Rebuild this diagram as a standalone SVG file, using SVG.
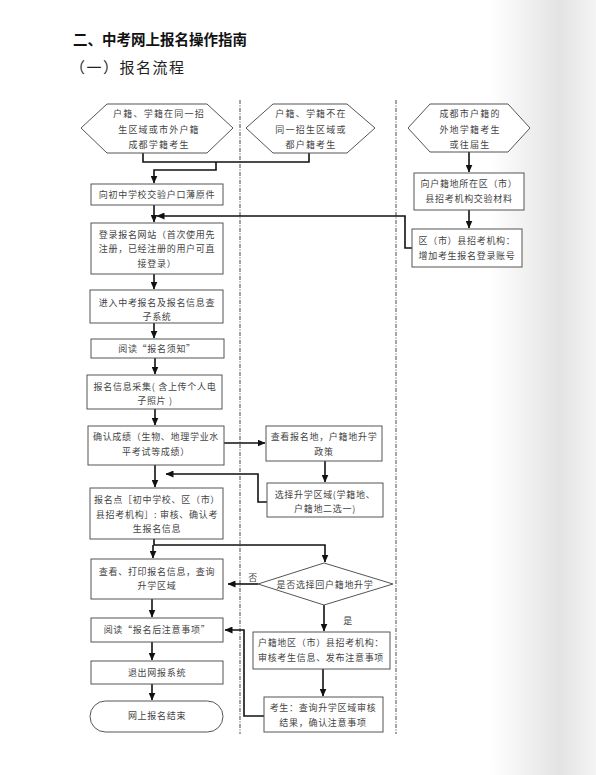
<svg xmlns="http://www.w3.org/2000/svg" width="596" height="775" viewBox="0 0 596 775">
<style>
.box{fill:#fff;stroke:#555;stroke-width:1}
.t{font-family:"Noto Sans CJK SC","Noto Sans",sans-serif;font-size:9px;fill:#444;text-anchor:middle;letter-spacing:0.7px}
.th{letter-spacing:1.2px}
.c{fill:none;stroke:#111;stroke-width:1.6}
.a{marker-end:url(#ah)}
.sep{stroke:#333;stroke-width:0.9;stroke-dasharray:4 1.5 1 1.5}
</style>
<defs>
<linearGradient id="edge" gradientUnits="userSpaceOnUse" x1="490" y1="0" x2="596" y2="0">
<stop offset="0" stop-color="#ffffff"/>
<stop offset="0.66" stop-color="#e3e3e3"/>
<stop offset="1" stop-color="#f4f4f4"/>
</linearGradient>
<marker id="ah" markerUnits="userSpaceOnUse" markerWidth="8" markerHeight="7" refX="7.5" refY="3.5" orient="auto">
<path d="M0,0 L8,3.5 L0,7 Z" fill="#111"/>
</marker>
</defs>
<rect x="0" y="0" width="596" height="775" fill="#fff"/>
<rect x="490" y="0" width="106" height="775" fill="url(#edge)"/>

<text x="73" y="45" font-family="'Noto Sans CJK SC',sans-serif" font-size="14.5" font-weight="bold" fill="#111">二、中考网上报名操作指南</text>
<text x="70" y="73" font-family="'Noto Sans CJK SC',sans-serif" font-size="15" letter-spacing="1.5" fill="#222">（一）报名流程</text>

<g id="separators">
<line class="sep" x1="240" y1="100" x2="240" y2="734"/>
<line class="sep" x1="396" y1="100" x2="396" y2="734"/>
</g>

<g id="connectors">
<path class="c" d="M143,153 V162 H309 V153"/>
<path class="c a" d="M216,162 V170 H154 V183"/>
<path class="c a" d="M154,205 V222"/>
<path class="c a" d="M412,248 H405 V216 H157"/>
<path class="c a" d="M469,152 V172"/>
<path class="c a" d="M469,210 V228"/>
<path class="c a" d="M154,274 V289"/>
<path class="c a" d="M154,323 V338"/>
<path class="c a" d="M155,358 V374"/>
<path class="c a" d="M155,409 V425"/>
<path class="c a" d="M224,443 H265"/>
<path class="c a" d="M325,461 V482"/>
<path class="c a" d="M267,502 H258 V474 H166"/>
<path class="c a" d="M155,465 V487"/>
<path class="c a" d="M154,539 V545 H325 V562"/>
<path class="c a" d="M153,545 V558"/>
<path class="c a" d="M258,584 H228"/>
<path class="c a" d="M324,605 V631"/>
<path class="c a" d="M323,669 V696"/>
<path class="c a" d="M264,716 H244 V630 H225"/>
<path class="c a" d="M152,599 V617"/>
<path class="c a" d="M152,642 V660"/>
<path class="c a" d="M152,684 V700"/>
<text class="t" x="253" y="581">否</text>
<text class="t" x="348" y="624">是</text>
</g>

<g id="n-hex1">
<polygon class="box" points="81,128 107,104 207,104 233,128 207,153 107,153"/>
<text class="t th" x="159" y="117">户籍、学籍在同一招</text>
<text class="t th" x="159" y="133">生区域或市外户籍</text>
<text class="t th" x="159" y="148">成都学籍考生</text>
</g>
<g id="n-hex2">
<polygon class="box" points="246,128 273,104 347,104 375,128 347,153 273,153"/>
<text class="t th" x="311" y="117">户籍、学籍不在</text>
<text class="t th" x="311" y="133">同一招生区域或</text>
<text class="t th" x="311" y="148">都户籍考生</text>
</g>
<g id="n-hex3">
<polygon class="box" points="408,128 430,104 508,104 530,128 508,152 430,152"/>
<text class="t th" x="470" y="117">成都市户籍的</text>
<text class="t th" x="470" y="133">外地学籍考生</text>
<text class="t th" x="470" y="148">或往届生</text>
</g>

<g id="n-hukou">
<rect class="box" x="91" y="184" width="132" height="21"/>
<text class="t" x="157" y="198">向初中学校交验户口薄原件</text>
</g>
<g id="n-login">
<rect class="box" x="91" y="223" width="132" height="51"/>
<text class="t" x="157" y="238">登录报名网站（首次使用先</text>
<text class="t" x="157" y="252">注册，已经注册的用户可直</text>
<text class="t" x="157" y="267">接登录）</text>
</g>
<g id="n-enter">
<rect class="box" x="90" y="290" width="133" height="33"/>
<text class="t" x="157" y="306">进入中考报名及报名信息查</text>
<text class="t" x="157" y="320">子系统</text>
</g>
<g id="n-notice">
<rect class="box" x="91" y="339" width="133" height="19"/>
<text class="t" x="157" y="352">阅读“报名须知”</text>
</g>
<g id="n-collect">
<rect class="box" x="87" y="375" width="135" height="34"/>
<text class="t" x="155" y="390">报名信息采集( 含上传个人电</text>
<text class="t" x="155" y="404">子照片 )</text>
</g>
<g id="n-score">
<rect class="box" x="88" y="426" width="136" height="39"/>
<text class="t" x="156" y="440">确认成绩（生物、地理学业水</text>
<text class="t" x="156" y="455">平考试等成绩）</text>
</g>
<g id="n-policy">
<rect class="box" x="266" y="426" width="116" height="35"/>
<text class="t" x="324" y="440">查看报名地，户籍地升学</text>
<text class="t" x="324" y="455">政策</text>
</g>
<g id="n-choose">
<rect class="box" x="267" y="483" width="116" height="34"/>
<text class="t" x="325" y="498">选择升学区域(学籍地、</text>
<text class="t" x="325" y="512">户籍地二选一)</text>
</g>
<g id="n-review">
<rect class="box" x="90" y="488" width="133" height="51"/>
<text class="t" x="157" y="503">报名点［初中学校、区（市）</text>
<text class="t" x="157" y="518">县招考机构］: 审核、确认考</text>
<text class="t" x="157" y="532">生报名信息</text>
</g>
<g id="n-print">
<rect class="box" x="91" y="559" width="132" height="40"/>
<text class="t" x="157" y="575">查看、打印报名信息，查询</text>
<text class="t" x="157" y="589">升学区域</text>
</g>
<g id="n-decision">
<polygon class="box" points="258,584 324,563 393,584 324,605"/>
<text class="t" x="325" y="588">是否选择回户籍地升学</text>
</g>
<g id="n-hjreview">
<rect class="box" x="253" y="632" width="137" height="37"/>
<text class="t" x="321" y="646">户籍地区（市）县招考机构：</text>
<text class="t" x="321" y="661">审核考生信息、发布注意事项</text>
</g>
<g id="n-query">
<rect class="box" x="264" y="697" width="119" height="35"/>
<text class="t" x="323" y="711">考生：查询升学区域审核</text>
<text class="t" x="323" y="726">结果，确认注意事项</text>
</g>
<g id="n-after">
<rect class="box" x="91" y="618" width="132" height="24"/>
<text class="t" x="157" y="633">阅读“报名后注意事项”</text>
</g>
<g id="n-exit">
<rect class="box" x="91" y="661" width="132" height="23"/>
<text class="t" x="157" y="676">退出网报系统</text>
</g>
<g id="n-end">
<rect class="box" x="90" y="701" width="133" height="31" rx="15.5" ry="15.5"/>
<text class="t" x="157" y="719">网上报名结束</text>
</g>
<g id="n-submit">
<rect class="box" x="414" y="173" width="110" height="37"/>
<text class="t" x="469" y="187">向户籍地所在区（市）</text>
<text class="t" x="469" y="202">县招考机构交验材料</text>
</g>
<g id="n-account">
<rect class="box" x="412" y="229" width="110" height="38"/>
<text class="t" x="467" y="244">区（市）县招考机构：</text>
<text class="t" x="467" y="259">增加考生报名登录账号</text>
</g>
</svg>
